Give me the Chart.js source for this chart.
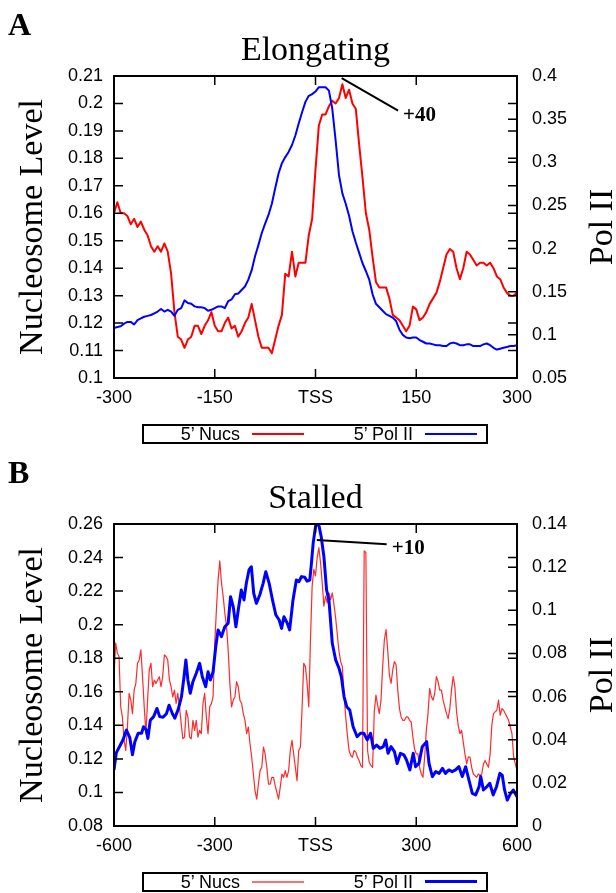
<!DOCTYPE html>
<html>
<head>
<meta charset="utf-8">
<script src="https://cdn.jsdelivr.net/npm/chart.js@4.4.0/dist/chart.umd.min.js"></script>
<style>
  html, body { margin: 0; padding: 0; background: #fff; width: 616px; height: 893px; overflow: hidden; }
  canvas { position: absolute; left: 0; }
  .legend { position: absolute; left: 142px; width: 346px; height: 20px; box-sizing: border-box;
            border: 2px solid #000; font: 18px "Liberation Sans", Arial, sans-serif; color: #000; }
  .legend .lab { position: absolute; left: 0; top: 0; line-height: 16px; text-align: right; white-space: nowrap; }
  .legend .sw { position: absolute; display: block; width: 52px; }
</style>
</head>
<body>
<canvas id="chartA" width="616" height="448" style="top:0"></canvas>
<canvas id="chartB" width="616" height="448" style="top:448px"></canvas>

<div class="legend" style="top:424px">
  <span class="lab" style="width:96px">5’ Nucs</span>
  <span class="sw" style="left:108px; top:7px; height:2px; background:#ff0000"></span>
  <span class="lab" style="width:269px">5’ Pol II</span>
  <span class="sw" style="left:281px; top:7px; height:2px; background:#0000ff"></span>
</div>
<div class="legend" style="top:872px">
  <span class="lab" style="width:96px">5’ Nucs</span>
  <span class="sw" style="left:108px; top:7px; height:2px; background:#ff7070"></span>
  <span class="lab" style="width:269px">5’ Pol II</span>
  <span class="sw" style="left:281px; top:6px; height:3px; background:#0000ff"></span>
</div>

<script>
const SERIF = '"Liberation Serif", "Times New Roman", serif';
const SANS = '"Liberation Sans", Arial, sans-serif';

// ---- Panel A: elongating genes (5 bp bins around the TSS) ----
const elongPos = [
  -300,-295,-290,-285,-280,-275,-270,-265,-260,-255,
  -250,-245,-240,-235,-230,-225,-220,-215,-210,-205,
  -200,-195,-190,-185,-180,-175,-170,-165,-160,-155,
  -150,-145,-140,-135,-130,-125,-120,-115,-110,-105,
  -100,-95,-90,-85,-80,-75,-70,-65,-60,-55,
  -50,-45,-40,-35,-30,-25,-20,-15,-10,-5,
  0,5,10,15,20,25,30,35,40,45,
  50,55,60,65,70,75,80,85,90,95,
  100,105,110,115,120,125,130,135,140,145,
  150,155,160,165,170,175,180,185,190,195,
  200,205,210,215,220,225,230,235,240,245,
  250,255,260,265,270,275,280,285,290,295,
  300
];
const elongNucs = [
  0.160,0.164,0.160,0.160,0.159,0.156,0.158,0.155,0.157,0.154,
  0.152,0.148,0.146,0.148,0.146,0.149,0.146,0.138,0.124,0.115,
  0.114,0.111,0.114,0.115,0.119,0.119,0.116,0.119,0.121,0.124,
  0.119,0.117,0.117,0.120,0.122,0.118,0.119,0.115,0.117,0.120,
  0.122,0.127,0.121,0.115,0.111,0.111,0.111,0.109,0.114,0.119,
  0.123,0.138,0.137,0.146,0.137,0.142,0.142,0.142,0.152,0.158,
  0.176,0.192,0.196,0.196,0.199,0.201,0.200,0.202,0.207,0.202,
  0.205,0.200,0.198,0.185,0.173,0.160,0.154,0.144,0.135,0.133,
  0.133,0.133,0.129,0.123,0.122,0.121,0.119,0.117,0.119,0.126,
  0.125,0.121,0.122,0.124,0.127,0.129,0.131,0.135,0.140,0.145,
  0.147,0.146,0.140,0.136,0.140,0.146,0.145,0.143,0.141,0.142,
  0.142,0.141,0.142,0.140,0.137,0.136,0.133,0.131,0.130,0.130,
  0.131
];
const elongPol = [
  0.108,0.109,0.110,0.113,0.115,0.115,0.112,0.117,0.119,0.121,
  0.122,0.123,0.125,0.127,0.130,0.127,0.129,0.127,0.122,0.129,
  0.131,0.140,0.137,0.136,0.133,0.132,0.132,0.131,0.128,0.129,
  0.131,0.133,0.133,0.131,0.139,0.141,0.147,0.148,0.152,0.156,
  0.164,0.175,0.191,0.204,0.218,0.229,0.239,0.252,0.270,0.287,
  0.299,0.306,0.312,0.320,0.331,0.345,0.358,0.370,0.377,0.379,
  0.382,0.387,0.387,0.387,0.383,0.362,0.325,0.285,0.264,0.252,
  0.238,0.220,0.207,0.195,0.183,0.174,0.164,0.147,0.136,0.132,
  0.128,0.124,0.122,0.120,0.116,0.106,0.100,0.097,0.096,0.097,
  0.097,0.094,0.092,0.090,0.090,0.089,0.088,0.088,0.087,0.087,
  0.090,0.091,0.090,0.088,0.088,0.089,0.089,0.087,0.087,0.087,
  0.089,0.090,0.088,0.085,0.083,0.084,0.085,0.086,0.087,0.087,
  0.088
];
const elongXTicks = [-300, -150, 0, 150, 300];
const elongXLabels = ['-300', '-150', 'TSS', '150', '300'];
const elongYTicks = [0.1, 0.11, 0.12, 0.13, 0.14, 0.15, 0.16, 0.17, 0.18, 0.19, 0.2, 0.21];
const elongY2Ticks = [0.05, 0.1, 0.15, 0.2, 0.25, 0.3, 0.35, 0.4];

// ---- Panel B: stalled genes ----
const stallNucPos = [
  -600,-595,-590,-585,-580,-575,-570,-565,-560,-555,
  -550,-545,-540,-535,-530,-525,-520,-515,-510,-505,
  -500,-495,-490,-485,-480,-475,-470,-465,-460,-455,
  -450,-445,-440,-435,-430,-425,-420,-415,-410,-405,
  -400,-395,-390,-385,-380,-375,-370,-365,-360,-355,
  -350,-345,-340,-335,-330,-325,-320,-315,-310,-305,
  -300,-295,-290,-285,-280,-275,-270,-265,-260,-255,
  -250,-245,-240,-235,-230,-225,-220,-215,-210,-205,
  -200,-195,-190,-185,-180,-175,-170,-165,-160,-155,
  -150,-145,-140,-135,-130,-125,-120,-115,-110,-105,
  -100,-95,-90,-85,-80,-75,-70,-65,-60,-55,
  -50,-45,-40,-35,-30,-25,-20,-15,-10,-5,
  0,5,10,15,20,25,30,35,40,45,
  50,55,60,65,70,75,80,85,90,95,
  100,105,110,115,120,125,130,135,140,145,
  150,155,160,165,170,175,180,185,190,195,
  200,205,210,215,220,225,230,235,240,245,
  250,255,260,265,270,275,280,285,290,295,
  300,305,310,315,320,325,330,335,340,345,
  350,355,360,365,370,375,380,385,390,395,
  400,405,410,415,420,425,430,435,440,445,
  450,455,460,465,470,475,480,485,490,495,
  500,505,510,515,520,525,530,535,540,545,
  550,555,560,565,570,575,580,585,590,595,
  600
];
const stallNucs = [
  0.169,0.189,0.183,0.181,0.151,0.145,0.131,0.125,0.139,0.159,
  0.155,0.147,0.161,0.165,0.177,0.179,0.185,0.169,0.151,0.135,
  0.155,0.173,0.177,0.163,0.167,0.165,0.167,0.169,0.163,0.169,
  0.182,0.181,0.179,0.167,0.163,0.157,0.161,0.153,0.159,0.151,
  0.141,0.132,0.133,0.149,0.145,0.133,0.132,0.143,0.137,0.143,
  0.133,0.137,0.135,0.153,0.159,0.145,0.135,0.151,0.153,0.157,
  0.189,0.209,0.227,0.238,0.225,0.217,0.207,0.199,0.185,0.165,
  0.151,0.155,0.157,0.166,0.163,0.155,0.153,0.147,0.143,0.135,
  0.139,0.129,0.121,0.111,0.101,0.096,0.105,0.113,0.115,0.127,
  0.123,0.115,0.105,0.105,0.109,0.109,0.104,0.100,0.096,0.103,
  0.111,0.109,0.113,0.109,0.113,0.125,0.131,0.123,0.115,0.107,
  0.125,0.127,0.150,0.177,0.175,0.165,0.151,0.191,0.223,0.233,
  0.229,0.240,0.246,0.237,0.225,0.211,0.217,0.213,0.219,0.215,
  0.219,0.212,0.204,0.194,0.184,0.178,0.175,0.158,0.145,0.134,
  0.125,0.122,0.121,0.125,0.124,0.121,0.119,0.116,0.115,0.244,
  0.243,0.125,0.118,0.116,0.115,0.148,0.158,0.152,0.147,0.155,
  0.175,0.191,0.197,0.185,0.170,0.165,0.173,0.178,0.176,0.161,
  0.150,0.145,0.143,0.143,0.145,0.145,0.143,0.142,0.133,0.126,
  0.123,0.123,0.115,0.111,0.109,0.121,0.137,0.147,0.162,0.157,
  0.155,0.159,0.169,0.166,0.161,0.161,0.155,0.151,0.147,0.144,
  0.150,0.161,0.169,0.163,0.148,0.140,0.135,0.137,0.130,0.123,
  0.117,0.121,0.121,0.115,0.111,0.110,0.109,0.111,0.110,0.111,
  0.117,0.119,0.117,0.115,0.123,0.140,0.147,0.148,0.149,0.155,
  0.146,0.150,0.149,0.147,0.145,0.143,0.139,0.135,0.121,0.117,
  0.113
];
const stallPolPos = [
  -600,-593,-583,-573,-563,-553,-545,-538,-528,-518,
  -512,-504,-499,-492,-482,-472,-464,-454,-444,-436,
  -426,-419,-409,-399,-392,-386,-380,-373,-365,-355,
  -345,-337,-327,-320,-313,-305,-297,-290,-280,-270,
  -260,-253,-245,-237,-230,-221,-213,-206,-198,-191,
  -184,-176,-166,-156,-148,-138,-128,-118,-108,-101,
  -94,-84,-77,-67,-57,-49,-42,-32,-25,-17,
  -12,-7,0,5,10,17,25,33,40,50,
  60,70,77,85,93,102,112,124,134,144,
  154,164,172,182,192,202,209,216,225,235,
  243,253,263,271,281,291,298,308,318,331,
  338,348,358,368,378,387,397,407,417,427,
  437,447,457,467,477,487,492,500,510,519,
  529,539,549,556,563,571,581,589,600
];
const stallPol = [
  0.026,0.034,0.037,0.040,0.0445,0.041,0.033,0.039,0.043,0.043,
  0.046,0.0445,0.0406,0.049,0.0507,0.0545,0.0507,0.0504,0.052,0.056,
  0.052,0.050,0.054,0.060,0.0685,0.077,0.0677,0.0615,0.0669,0.0708,
  0.0754,0.0692,0.0646,0.0715,0.0677,0.0715,0.0831,0.0909,0.0878,0.0924,
  0.094,0.1063,0.1017,0.0924,0.1001,0.1094,0.1048,0.1125,0.1187,0.1202,
  0.1079,0.1032,0.1071,0.1125,0.1179,0.1125,0.1048,0.0978,0.0955,0.0916,
  0.097,0.094,0.0909,0.1048,0.114,0.1133,0.1156,0.1153,0.1135,0.114,
  0.122,0.131,0.1388,0.140,0.1395,0.1341,0.1249,0.1094,0.1048,0.0847,
  0.077,0.0731,0.0692,0.060,0.0553,0.0538,0.046,0.0414,0.043,0.043,
  0.0399,0.043,0.036,0.0375,0.036,0.0368,0.0399,0.0337,0.0368,0.0345,
  0.029,0.0337,0.033,0.0306,0.026,0.0337,0.0275,0.029,0.0368,0.0391,
  0.029,0.0229,0.0252,0.0244,0.0267,0.0244,0.026,0.0252,0.026,0.0275,
  0.0229,0.0275,0.0213,0.0151,0.0144,0.0182,0.0229,0.0167,0.0182,0.0198,
  0.0144,0.0182,0.0244,0.0236,0.0167,0.012,0.0151,0.0167,0.0136
];
const stallXTicks = [-600, -300, 0, 300, 600];
const stallXLabels = ['-600', '-300', 'TSS', '300', '600'];
const stallYTicks = [0.08, 0.1, 0.12, 0.14, 0.16, 0.18, 0.2, 0.22, 0.24, 0.26];
const stallY2Ticks = [0, 0.02, 0.04, 0.06, 0.08, 0.1, 0.12, 0.14];

function numLabel(v) {
  return String(Number(v.toFixed(3)));
}

// gnuplot-ish frame: border, inward ticks (mirrored), titles and the call-out
function frame(p) {
  return {
    id: 'frame',
    afterDraw(chart) {
      const { ctx, chartArea: a } = chart;
      const sx = chart.scales.x, sy = chart.scales.y, sy2 = chart.scales.y2;
      const T = 9;
      ctx.save();
      ctx.strokeStyle = '#000';
      ctx.fillStyle = '#000';
      ctx.lineWidth = 1.5;
      ctx.beginPath();
      sx.ticks.forEach(t => {
        const px = sx.getPixelForValue(t.value);
        ctx.moveTo(px, a.bottom); ctx.lineTo(px, a.bottom - T);
        ctx.moveTo(px, a.top); ctx.lineTo(px, a.top + T);
      });
      sy.ticks.forEach(t => {
        const py = sy.getPixelForValue(t.value);
        ctx.moveTo(a.left, py); ctx.lineTo(a.left + T, py);
        ctx.moveTo(a.right, py); ctx.lineTo(a.right - T, py);
      });
      sy2.ticks.forEach(t => {
        const py = sy2.getPixelForValue(t.value);
        ctx.moveTo(a.right, py); ctx.lineTo(a.right - T, py);
      });
      ctx.stroke();
      ctx.lineWidth = 2;
      ctx.strokeRect(a.left, a.top, a.right - a.left, a.bottom - a.top);

      // call-out line to the nucleosome peak
      const n = p.note;
      const x1 = sx.getPixelForValue(n.from[0]), y1 = sy.getPixelForValue(n.from[1]);
      const x2 = sx.getPixelForValue(n.to[0]), y2 = sy.getPixelForValue(n.to[1]);
      ctx.beginPath(); ctx.moveTo(x1, y1); ctx.lineTo(x2, y2); ctx.stroke();
      ctx.font = 'bold 21px ' + SERIF;
      ctx.textAlign = 'left';
      ctx.textBaseline = 'alphabetic';
      ctx.fillText(n.text, x2 + 5, y2 + 10);

      ctx.font = 'bold 32px ' + SERIF;
      ctx.fillText(p.letter, 8, 35);
      ctx.font = '34px ' + SERIF;
      ctx.textAlign = 'center';
      ctx.fillText(p.title, (a.left + a.right) / 2, 60);

      const midY = (a.top + a.bottom) / 2;
      [[p.yTitle, 42], [p.y2Title, 612]].forEach(([txt, bx]) => {
        ctx.save();
        ctx.translate(bx, midY);
        ctx.rotate(-Math.PI / 2);
        ctx.fillText(txt, 0, 0);
        ctx.restore();
      });
      ctx.restore();
    }
  };
}

function makeChart(id, p) {
  const tickFont = { family: SANS, size: 18 };
  const axis = (ticks, labels, pos, width, pad) => ({
    type: 'linear',
    position: pos,
    min: ticks[0],
    max: ticks[ticks.length - 1],
    grid: { display: false, drawTicks: false },
    border: { display: false },
    afterBuildTicks: s => { s.ticks = ticks.map(v => ({ value: v })); },
    afterFit: s => { if (width.w) s.width = width.w; else s.height = width.h; },
    ticks: {
      autoSkip: false, maxRotation: 0, padding: pad, color: '#000', font: tickFont,
      callback: (v, i) => labels ? labels[i] : numLabel(v)
    }
  });

  return new Chart(document.getElementById(id), {
    type: 'line',
    data: {
      datasets: [
        {
          label: '5’ Pol II',
          data: p.polPos.map((x, i) => ({ x, y: p.pol[i] })),
          yAxisID: 'y2',
          borderColor: '#0000ff',
          borderWidth: p.polWidth,
          order: 0
        },
        {
          label: '5’ Nucs',
          data: p.nucPos.map((x, i) => ({ x, y: p.nucs[i] })),
          yAxisID: 'y',
          borderColor: p.nucColor,
          borderWidth: p.nucWidth,
          order: 1
        }
      ]
    },
    options: {
      responsive: false,
      animation: false,
      devicePixelRatio: 1,
      layout: { padding: { top: 76, left: 0, right: 0, bottom: 0 } },
      elements: {
        point: { radius: 0 },
        line: { tension: 0, borderJoinStyle: 'round', fill: false }
      },
      plugins: { legend: { display: false }, tooltip: { enabled: false }, title: { display: false } },
      scales: {
        x: axis(p.xTicks, p.xLabels, 'bottom', { h: 70 }, 9),
        y: axis(p.yTicks, null, 'left', { w: 114 }, 11),
        y2: axis(p.y2Ticks, null, 'right', { w: 99 }, 15)
      }
    },
    plugins: [frame(p)]
  });
}

makeChart('chartA', {
  letter: 'A', title: 'Elongating', yTitle: 'Nucleosome Level', y2Title: 'Pol II',
  nucPos: elongPos, nucs: elongNucs, polPos: elongPos, pol: elongPol,
  nucWidth: 2, polWidth: 2, nucColor: '#ff0000',
  xTicks: elongXTicks, xLabels: elongXLabels, yTicks: elongYTicks, y2Ticks: elongY2Ticks,
  note: { from: [39, 0.2092], to: [123, 0.1974], text: '+40' }
});

makeChart('chartB', {
  letter: 'B', title: 'Stalled', yTitle: 'Nucleosome Level', y2Title: 'Pol II',
  nucPos: stallNucPos, nucs: stallNucs, polPos: stallPolPos, pol: stallPol,
  nucWidth: 1.2, polWidth: 3, nucColor: '#ff2a2a',
  xTicks: stallXTicks, xLabels: stallXLabels, yTicks: stallYTicks, y2Ticks: stallY2Ticks,
  note: { from: [4, 0.2505], to: [212, 0.2479], text: '+10' }
});
</script>
</body>
</html>
